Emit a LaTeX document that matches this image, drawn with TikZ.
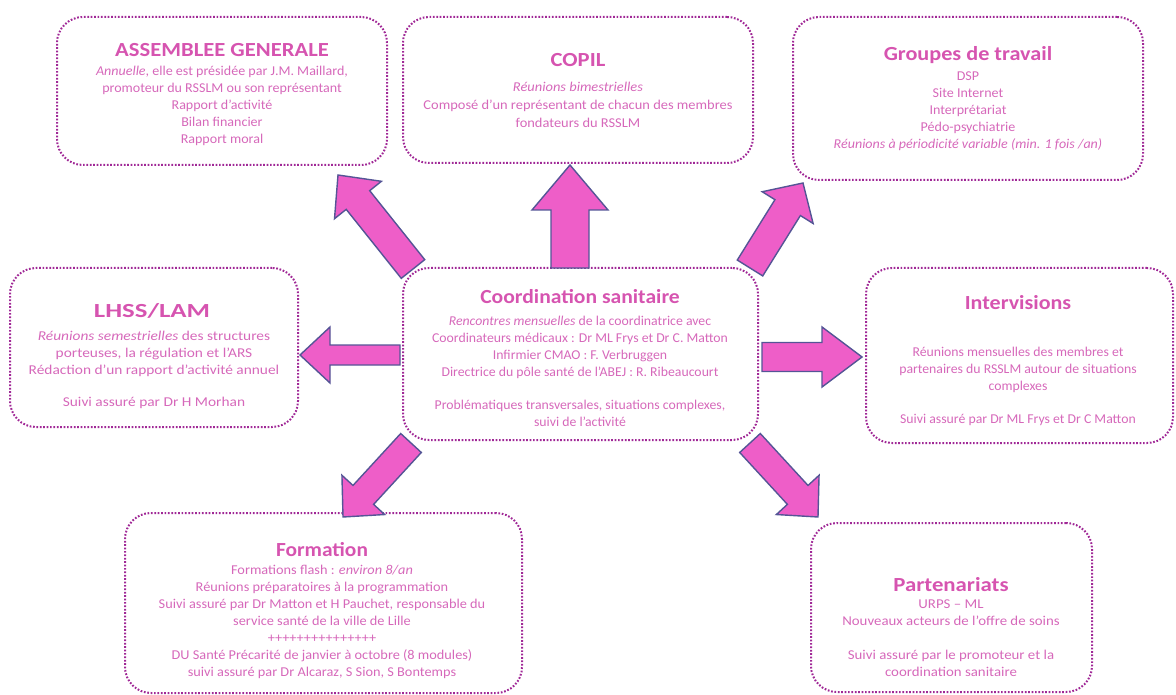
\documentclass[tikz,border=0pt]{standalone}
\usepackage{fontspec}
\setmainfont{Carlito}
\usetikzlibrary{calc}
\definecolor{bordc}{RGB}{160,40,150}
\definecolor{ttlc}{RGB}{214,84,176}
\definecolor{bdyc}{RGB}{214,104,186}
\definecolor{arrfill}{RGB}{238,94,200}
\definecolor{arrline}{RGB}{85,85,150}
\tikzset{
  box/.style={draw=bordc, line width=2pt, dash pattern=on 1.7pt off 1.7pt,
    rounded corners=26pt, inner sep=0pt, rectangle},
  ttl/.style={font=\fontsize{20}{22}\selectfont\bfseries\addfontfeature{FakeStretch=#1}, text=ttlc, inner sep=0pt, anchor=base},
  bdy/.style={font=\fontsize{13.5}{17}\selectfont\addfontfeature{FakeStretch=#1}, text=bdyc, align=center, inner sep=0pt, anchor=base},
  barrow/.style={fill=arrfill, draw=arrline, line width=1.4pt, line join=miter},
}
\newcommand\blockarrow[5]{%
  \coordinate (ba-n) at ($(#2)!#5pt!(#1)$);
  \draw[barrow] ($(#1)!#3pt!90:(#2)$) -- ($(ba-n)!#3pt!-90:(#1)$) -- ($(ba-n)!#4pt!-90:(#1)$) -- (#2)
    -- ($(ba-n)!#4pt!90:(#1)$) -- ($(ba-n)!#3pt!90:(#1)$) -- ($(#1)!#3pt!-90:(#2)$) -- cycle;}
\begin{document}
\begin{tikzpicture}[x=1pt,y=-1pt]
\useasboundingbox (0,0) rectangle (1176,695);
% boxes
\node[box, minimum width=330pt, minimum height=148pt] (ag) at (222,91) {};
\node[box, minimum width=350pt, minimum height=146pt] (copil) at (578,90) {};
\node[box, minimum width=350pt, minimum height=163pt] (gt) at (968,98.5) {};
\node[box, minimum width=288pt, minimum height=159pt] (lhss) at (154,347.5) {};
\node[box, minimum width=355pt, minimum height=172pt] (coord) at (580.5,354) {};
\node[box, minimum width=307pt, minimum height=175pt] (inter) at (1019.5,355.5) {};
\node[box, minimum width=397pt, minimum height=180pt] (form) at (323.5,603) {};
\node[box, minimum width=281pt, minimum height=169pt] (part) at (951.5,607.5) {};
% texts (body nodes anchored at the baseline of their last line)
\node[ttl=1.13] (agT) at (222,57) {ASSEMBLEE GENERALE};
\node[bdy=1.04] (agB) at (222,144) {\textit{Annuelle}, elle est présidée par J.M. Maillard,\\promoteur du RSSLM ou son représentant\\Rapport d'activité\\Bilan financier\\Rapport moral};
\node[ttl=1.13] (copilT) at (578,67) {COPIL};
\node[bdy=1.07] (copilB) at (578,128) {\textit{Réunions bimestrielles}\\[1pt]Composé d'un représentant de chacun des membres\\[1pt]fondateurs du RSSLM};
\node[ttl=1.11] (gtT) at (968,61) {Groupes de travail};
\node[bdy=1.04] (gtB) at (968,149) {DSP\\Site Internet\\Interprétariat\\Pédo-psychiatrie\\\textit{Réunions à périodicité variable (min. 1 fois /an)}};
\node[ttl=1.34] (lhssT) at (152,317) {LHSS/LAM};
\node[bdy=1.14] (lhssB) at (154,406) {\textit{Réunions semestrielles} des structures\\porteuses, la régulation et l'ARS\\Rédaction d'un rapport d'activité annuel\\[15pt]Suivi assuré par Dr H Morhan};
\node[ttl=1.08] (coordT) at (580,304) {Coordination sanitaire};
\node[bdy=1.02] (coordB) at (580,426) {\textit{Rencontres mensuelles} de la coordinatrice avec\\Coordinateurs médicaux : Dr ML Frys et Dr C. Matton\\Infirmier CMAO : F. Verbruggen\\Directrice du pôle santé de l'ABEJ : R. Ribeaucourt\\[16pt]Problématiques transversales, situations complexes,\\suivi de l'activité};
\node[ttl=1.10] (interT) at (1018,309) {Intervisions};
\node[bdy=1.02] (interB) at (1018,423) {Réunions mensuelles des membres et\\partenaires du RSSLM autour de situations\\complexes\\[16pt]Suivi assuré par Dr ML Frys et Dr C Matton};
\node[ttl=1.07] (formT) at (322,556) {Formation};
\node[bdy=1.06] (formB) at (322,676) {Formations flash : \textit{environ 8/an}\\Réunions préparatoires à la programmation\\Suivi assuré par Dr Matton et H Pauchet, responsable du\\service santé de la ville de Lille\\+++++++++++++++\\DU Santé Précarité de janvier à octobre (8 modules)\\suivi assuré par Dr Alcaraz, S Sion, S Bontemps};
\node[ttl=1.14] (partT) at (951,591) {Partenariats};
\node[bdy=1.10] (partB) at (951,676) {URPS -- ML\\Nouveaux acteurs de l'offre de soins\\[17pt]Suivi assuré par le promoteur et la\\coordination sanitaire};
% arrow end points
\coordinate (t1) at (413,269); \coordinate (h1) at (338,175);
\coordinate (t2) at (570,268); \coordinate (h2) at (570,165);
\coordinate (t3) at (750,268); \coordinate (h3) at (803,183);
\coordinate (t4) at (400,355); \coordinate (h4) at (300,355);
\coordinate (t5) at (762,357); \coordinate (h5) at (862,357);
\coordinate (t6) at (411,443); \coordinate (h6) at (343,517);
\coordinate (t7) at (750,443); \coordinate (h7) at (818,517);
\blockarrow{t1}{h1}{15}{30}{32}
\blockarrow{t2}{h2}{19}{38}{45}
\blockarrow{t3}{h3}{15}{30}{29}
\blockarrow{t4}{h4}{10}{28}{30}
\blockarrow{t5}{h5}{14.5}{30}{40}
\blockarrow{t6}{h6}{14}{29}{30}
\blockarrow{t7}{h7}{14}{29}{30}
\end{tikzpicture}
\end{document}
